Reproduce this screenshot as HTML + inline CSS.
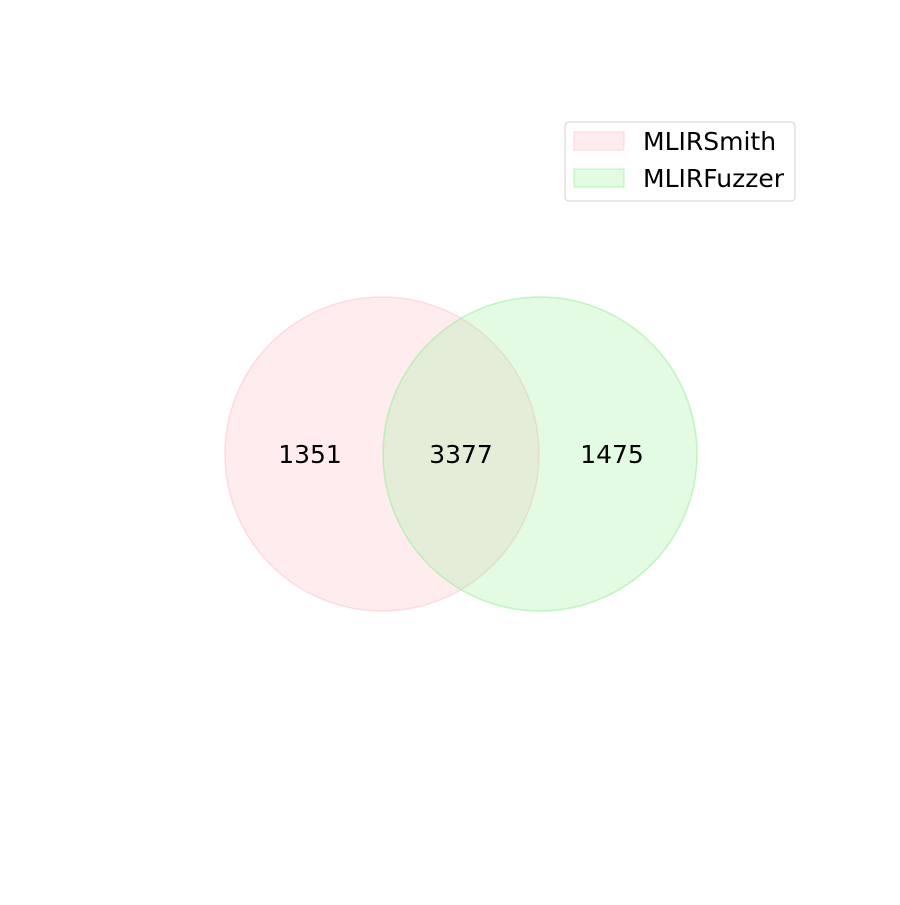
<!DOCTYPE html>
<html><head><meta charset="utf-8"><style>
body{margin:0;background:#fff;}
svg text{font-family:"DejaVu Sans","Liberation Sans",sans-serif;}
</style></head><body>
<svg id="chart" width="900" height="900" xmlns="http://www.w3.org/2000/svg"></svg>
<script>
const setNames = ["MLIRSmith", "MLIRFuzzer"];
const regionCounts = [1351, 3377, 1475]; // only A, both, only B
const fills = ["#ffc0cb", "#90ee90"];
const svg = document.getElementById('chart');
const NS = "http://www.w3.org/2000/svg";
function mk(t, a){const e=document.createElementNS(NS,t);for(const k in a)e.setAttribute(k,a[k]);svg.appendChild(e);return e;}
const cy = 454, r = 157;
const cxs = [382, 540];
cxs.forEach((cx,i)=>{
  const c = mk('circle',{cx:cx,cy:cy,r:r,fill:fills[i],'fill-opacity':i?0.25:0.3,stroke:fills[i],'stroke-opacity':0.5,'stroke-width':1.5});
  
  
});
const labelX = [310, 461, 612];
regionCounts.forEach((v,i)=>{
  const t = mk('text',{x:labelX[i],y:cy+9,'text-anchor':'middle','font-size':25,fill:'#000'});
  t.textContent = v;
  
  
});
const lg = mk('rect',{x:565,y:122,width:230,height:79,rx:4,fill:'#fff',stroke:'#d0d0d0'});


setNames.forEach((n,i)=>{
  const y = 132 + i*37;
  const p = mk('rect',{x:574,y:y,width:50,height:18,fill:fills[i],'fill-opacity':i?0.25:0.3,stroke:fills[i],'stroke-opacity':0.6});
  
  
  const t = mk('text',{x:643,y:y+18,'font-size':25,fill:'#000'});
  t.textContent = n;
  
  
});
</script>
</body></html>
